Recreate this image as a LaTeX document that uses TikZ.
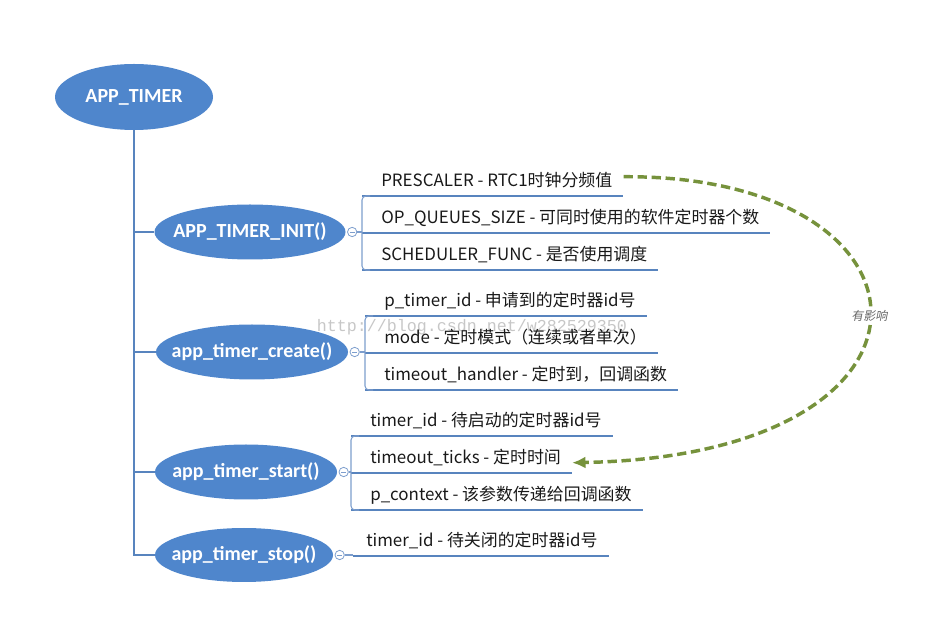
\documentclass[tikz,border=0pt]{standalone}
\usepackage{fontspec}
\newfontfamily\cjk{Noto Sans CJK SC}
\newfontfamily\cjkslant{Noto Sans CJK SC}[FakeSlant=0.2]
\newfontfamily\headfont{Carlito}
\newfontfamily\wmfont{Liberation Mono}
\usetikzlibrary{shapes.geometric,positioning,arrows.meta}
\definecolor{ovalblue}{RGB}{79,134,204}
\definecolor{lineblue}{RGB}{88,132,190}
\definecolor{brackblue}{RGB}{125,158,205}
\definecolor{linkgreen}{RGB}{118,146,60}

\begin{document}
\begin{tikzpicture}
[
	x=0.75pt, y=-0.75pt,
	oval/.style={ellipse,fill=ovalblue,text=white,font=\headfont\bfseries\fontsize{15}{18}\selectfont,inner xsep=-14pt,inner ysep=-5pt},
	collapse/.style={circle,draw=brackblue,fill=white,line width=0.6pt,inner sep=0pt,minimum size=7pt,
		path picture={\draw[brackblue,line width=0.6pt] ([xshift=-2pt]path picture bounding box.center) -- ([xshift=2pt]path picture bounding box.center);}},
	item/.style={anchor=south west,inner xsep=0pt,inner ysep=3.75pt,text height=9pt,text depth=3pt,font=\cjk\fontsize{12.7}{14}\selectfont,text=black!90},
	uline/.style={draw=lineblue,line width=2.2pt},
	trunk/.style={draw=lineblue,line width=1.2pt},
	bracket/.style={draw=brackblue,line width=0.8pt,rounded corners=3pt},
	link/.style={draw=linkgreen,line width=2.6pt,dash pattern=on 7pt off 3.5pt,-{Latex[length=10pt,width=9pt]}}
]

	\useasboundingbox (0,0) rectangle (925,630);

	% watermark
	\node[font=\wmfont\fontsize{12.5}{14}\selectfont,text=black!22] (wm) at (472,327) {http://blog.csdn.net/w282529350};

	% ovals
	\node[oval,minimum width=118.5pt,minimum height=49.5pt] (root) at (134,97) {APP\_TIMER};
	\node[oval,minimum width=143.25pt,minimum height=41.25pt] (init) at (250,232) {APP\_TIMER\_INIT()};
	\node[oval,minimum width=144pt,minimum height=41.25pt] (create) at (252,352) {app\_timer\_create()};
	\node[oval,minimum width=136.5pt,minimum height=41.25pt] (start) at (246,472) {app\_timer\_start()};
	\node[oval,minimum width=133.5pt,minimum height=40.5pt] (stop) at (244,555) {app\_timer\_stop()};

	% trunk
	\draw[trunk] (root.south) |- (stop.west);
	\draw[trunk] (root.south |- init.west) -- (init.west);
	\draw[trunk] (root.south |- create.west) -- (create.west);
	\draw[trunk] (root.south |- start.west) -- (start.west);

	% collapse buttons
	\node[collapse,right=1pt of init] (initc) {};
	\node[collapse,right=1pt of create] (createc) {};
	\node[collapse,right=1pt of start] (startc) {};
	\node[collapse,right=1pt of stop] (stopc) {};

	% parameters
	\node[item] (prescaler) at (362,196) {\hspace*{14.25pt}PRESCALER - RTC1时钟分频值};
	\node[item] (opqueues) at (362,233) {\hspace*{14.25pt}OP\_QUEUES\_SIZE - 可同时使用的软件定时器个数};
	\node[item] (scheduler) at (362,270) {\hspace*{14.25pt}SCHEDULER\_FUNC - 是否使用调度};

	\node[item] (ptimerid) at (365,316) {\hspace*{14.25pt}p\_timer\_id - 申请到的定时器id号};
	\node[item] (mode) at (365,353) {\hspace*{14.25pt}mode - 定时模式（连续或者单次）};
	\node[item] (handler) at (365,390) {\hspace*{14.25pt}timeout\_handler - 定时到，回调函数};

	\node[item] (startid) at (351,436) {\hspace*{14.25pt}timer\_id - 待启动的定时器id号};
	\node[item] (ticks) at (351,473) {\hspace*{14.25pt}timeout\_ticks - 定时时间};
	\node[item] (context) at (351,510) {\hspace*{14.25pt}p\_context - 该参数传递给回调函数};

	\node[item] (stopid) at (353,556) {\hspace*{9.75pt}timer\_id - 待关闭的定时器id号};

	\foreach \n in {prescaler,opqueues,scheduler,ptimerid,mode,handler,startid,ticks,context,stopid}
		\draw[uline] (\n.south west) -- ([xshift=8pt]\n.south east);

	% brackets
	\draw[bracket] ([xshift=6pt]prescaler.south west) -| (scheduler.south west) -- ([xshift=6pt]scheduler.south west);
	\draw[bracket] ([xshift=6pt]ptimerid.south west) -| (handler.south west) -- ([xshift=6pt]handler.south west);
	\draw[bracket] ([xshift=6pt]startid.south west) -| (context.south west) -- ([xshift=6pt]context.south west);
	\draw[bracket] (initc) -- (initc -| opqueues.south west);
	\draw[bracket] (createc) -- (createc -| mode.south west);
	\draw[bracket] (startc) -- (startc -| ticks.south west);
	\draw[bracket] (stopc) -- (stopc -| stopid.south west);

	% influence
	\draw[link] ([shift={(11,-10)}]prescaler.base east) .. controls (950,175) and (970,455) .. ([shift={(11,-1)}]ticks.base east)
		node[pos=0.5,fill=white,inner sep=1pt,font=\cjkslant\fontsize{9}{10}\selectfont,text=black!60] (effect) {有影响};

\end{tikzpicture}
\end{document}
